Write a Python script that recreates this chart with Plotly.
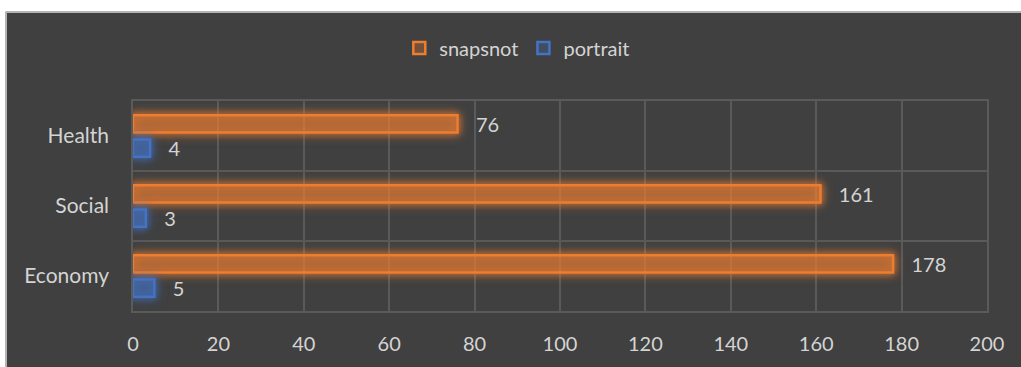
import plotly.graph_objects as go

# Chart data
categories = ["Health", "Social", "Economy"]
snapsnot = [76, 161, 178]
portrait = [4, 3, 5]
x_ticks = [0, 20, 40, 60, 80, 100, 120, 140, 160, 180, 200]

W, H = 1021, 367
ML, MR, MT, MB = 133, 34, 101, 56

BG = "#404040"
GRID = "#5a5a5a"
TXT = "#d4d4d4"
ORANGE = "#ED7D31"
BLUE = "#4472C4"
FONT = "Lato, 'Open Sans', sans-serif"
NBSP = "\u00a0"

fig = go.Figure()
fig.add_trace(go.Bar(
    name="snapsnot", y=categories, x=snapsnot, orientation="h",
    marker=dict(color="rgba(237,125,49,0.28)", line=dict(color=ORANGE, width=2.5)),
    texttemplate=NBSP * 3 + "%{x}", textposition="outside", constraintext="none",
    textfont=dict(color=TXT, size=20, family=FONT), cliponaxis=False,
))
fig.add_trace(go.Bar(
    name="portrait", y=categories, x=portrait, orientation="h",
    marker=dict(color="rgba(68,114,196,0.25)", line=dict(color=BLUE, width=2.5)),
    texttemplate=NBSP * 3 + "%{x}", textposition="outside", constraintext="none",
    textfont=dict(color=TXT, size=20, family=FONT), cliponaxis=False,
))

# convert pixel positions to paper coordinates for the frame strips
pw = W - ML - MR
ph = H - MT - MB


def px_x(p):
    return (p - ML) / pw


def px_y(p):
    return (H - MB - p) / ph


shapes = [
    # white strip along the top and left edge with a grey border
    dict(type="rect", xref="paper", yref="paper", x0=px_x(-5), x1=px_x(W + 5),
         y0=px_y(12), y1=px_y(-5), fillcolor="white", line=dict(width=0), layer="above"),
    dict(type="rect", xref="paper", yref="paper", x0=px_x(-5), x1=px_x(6),
         y0=px_y(H + 5), y1=px_y(-5), fillcolor="white", line=dict(width=0), layer="above"),
    dict(type="line", xref="paper", yref="paper", x0=px_x(5.5), x1=px_x(W + 5),
         y0=px_y(12), y1=px_y(12), line=dict(color="#b4b4b4", width=2), layer="above"),
    dict(type="line", xref="paper", yref="paper", x0=px_x(6), x1=px_x(6),
         y0=px_y(12), y1=px_y(H + 5), line=dict(color="#b4b4b4", width=2), layer="above"),
]

fig.update_layout(
    width=W, height=H,
    margin=dict(l=ML, r=MR, t=MT, b=MB, pad=0, autoexpand=False),
    paper_bgcolor=BG, plot_bgcolor=BG,
    barmode="group", bargap=0.31, bargroupgap=0.28,
    font=dict(family=FONT, color=TXT, size=20),
    showlegend=True,
    legend=dict(orientation="h", x=0.45, xanchor="center", y=px_y(48), yanchor="middle",
                font=dict(size=20, color=TXT, family=FONT), bgcolor="rgba(0,0,0,0)",
                itemwidth=30, tracegroupgap=0),
    shapes=shapes,
    xaxis=dict(range=[0, 200], tickvals=x_ticks, showgrid=True, gridcolor=GRID, gridwidth=1.5,
               zeroline=False, showline=True, linecolor=GRID, linewidth=1.5, mirror=True,
               ticks="", ticklabelstandoff=14, automargin=False,
               tickfont=dict(size=20, color=TXT, family=FONT), fixedrange=True),
    yaxis=dict(categoryorder="array", categoryarray=categories, autorange="reversed",
               tickson="boundaries", showgrid=True, gridcolor=GRID, gridwidth=1.5,
               showline=True, linecolor=GRID, linewidth=1.5, mirror=True,
               ticks="", ticklabelstandoff=18, automargin=False,
               tickfont=dict(size=21, color=TXT, family=FONT)),
)

# soft glow around the bar outlines
glow_js = """
var gd = document.getElementsByClassName('plotly-graph-div')[0];
function addGlow(){
  var trs = gd.querySelectorAll('.barlayer .trace');
  trs.forEach(function(tr, i){
    var c = i === 0 ? 'rgba(237,125,49,0.8)' : 'rgba(68,114,196,0.8)';
    tr.querySelectorAll('.point path').forEach(function(p){
      p.style.filter = 'drop-shadow(0 0 3px ' + c + ') drop-shadow(0 0 5px ' + c + ')';
    });
  });
}
addGlow();
gd.on('plotly_afterplot', addGlow);
"""

fig.write_html("out.html", post_script=glow_js)
